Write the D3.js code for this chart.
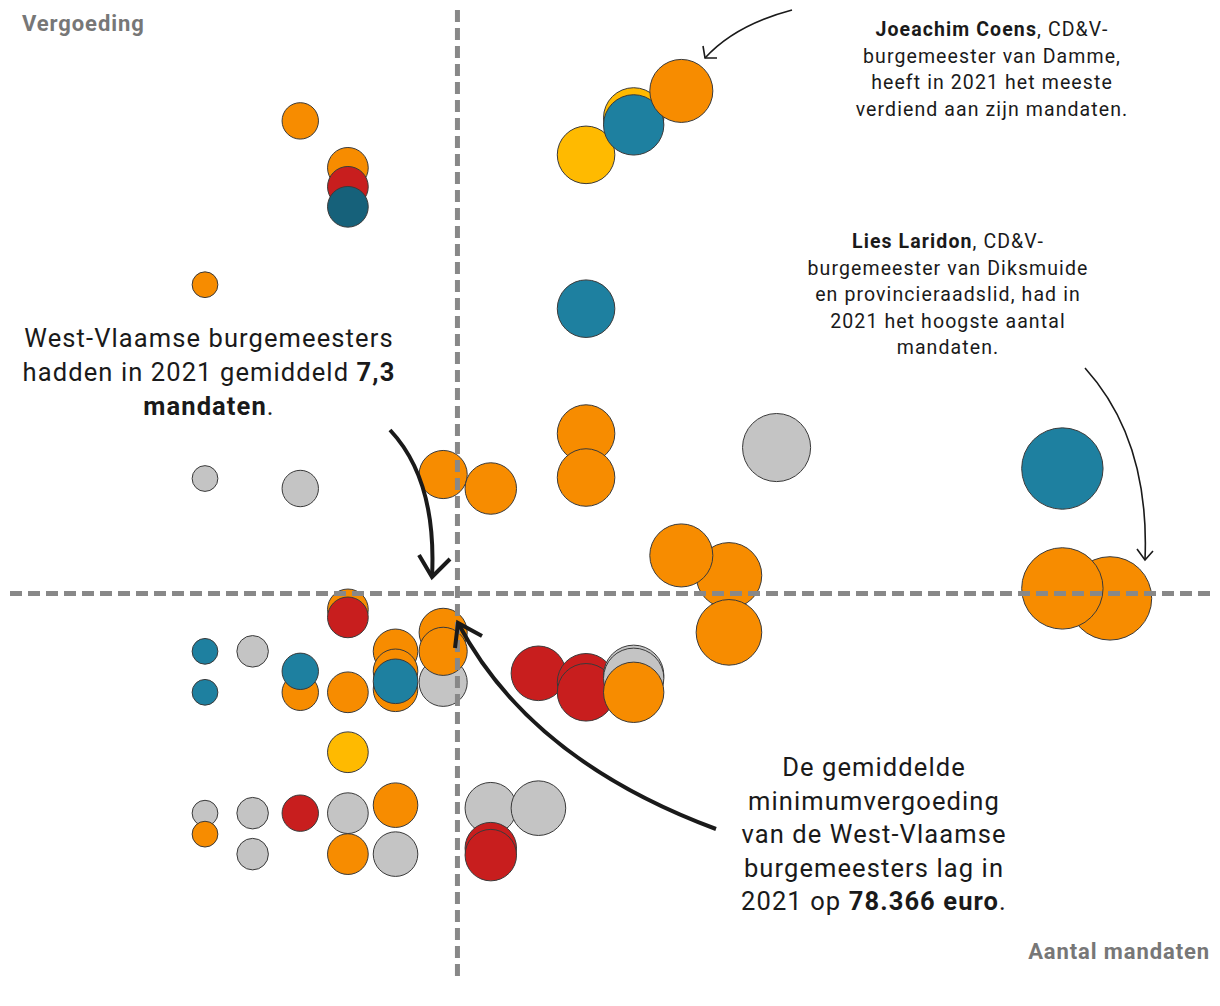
<!DOCTYPE html>
<html>
<head>
<meta charset="utf-8">
<script src="https://cdn.jsdelivr.net/npm/d3@7"></script>
<style>
  html, body { margin: 0; padding: 0; background: #fff; }
  svg { display: block; font-family: Roboto, "Noto Sans", sans-serif; }
</style>
</head>
<body>
<svg id="chart" width="1220" height="1006"></svg>
<script>
// ---- data ----
const partijen = ["CD&V", "N-VA", "Open Vld", "Vooruit", "Lokale lijst", "Andere"];
const partijKleuren = ["#F78C00", "#FFBA00", "#1E80A0", "#C81E1E", "#C4C4C4", "#16617A"];

const mandaten = [
  2, 2, 2, 2, 2, 2,
  3, 3, 3,
  4, 4, 4, 4, 4,
  5, 5, 5, 5, 5, 5, 5, 5, 5,
  6, 6, 6, 6, 6, 6,
  7, 7, 7, 7,
  8, 8, 8, 8,
  9, 9,
  10, 10, 10, 10, 10, 10,
  11, 11, 11, 11, 11,
  13, 13, 12, 12,
  14,
  20, 21, 20
];
const vergoeding = [
  109266, 89866, 72566, 68466, 56366, 54266,
  72566, 56366, 52266,
  125666, 88866, 68466, 70566, 56366,
  120966, 119066, 117066, 76766, 75966, 68466, 62466, 56366, 52266,
  72566, 70566, 68766, 69566, 57166, 52266,
  90266, 69466, 74466, 72566,
  88866, 56866, 52866, 52166,
  70366, 56866,
  122266, 106866, 94366, 89966, 69466, 68466,
  125966, 125266, 70166, 69866, 68466,
  80166, 74466, 128666, 82166,
  92966,
  90866, 77866, 78866
];
const partij = [
  "CD&V", "Lokale lijst", "Open Vld", "Open Vld", "Lokale lijst", "CD&V",
  "Lokale lijst", "Lokale lijst", "Lokale lijst",
  "CD&V", "Lokale lijst", "CD&V", "Open Vld", "Vooruit",
  "CD&V", "Vooruit", "Andere", "CD&V", "Vooruit", "CD&V", "N-VA", "Lokale lijst", "CD&V",
  "CD&V", "CD&V", "CD&V", "Open Vld", "CD&V", "Lokale lijst",
  "CD&V", "Lokale lijst", "CD&V", "CD&V",
  "CD&V", "Lokale lijst", "Vooruit", "Vooruit",
  "Vooruit", "Lokale lijst",
  "N-VA", "Open Vld", "CD&V", "CD&V", "Vooruit", "Vooruit",
  "N-VA", "Open Vld", "Lokale lijst", "Lokale lijst", "CD&V",
  "CD&V", "CD&V", "CD&V", "CD&V",
  "Lokale lijst",
  "Open Vld", "CD&V", "CD&V"
];

const gemiddeldMandaten = 7.3;
const gemiddeldeVergoeding = 78366;

const asLabels = ["Vergoeding", "Aantal mandaten"];

const annotaties = [
  { x: 209, y: 347, size: 25.5, lh: 34, lines: [
    [["West-Vlaamse burgemeesters", false]],
    [["hadden in 2021 gemiddeld ", false], ["7,3", true]],
    [["mandaten", true], [".", false]]
  ]},
  { x: 874, y: 776, size: 25.5, lh: 33.5, lines: [
    [["De gemiddelde", false]],
    [["minimumvergoeding", false]],
    [["van de West-Vlaamse", false]],
    [["burgemeesters lag in", false]],
    [["2021 op ", false], ["78.366 euro", true], [".", false]]
  ]},
  { x: 992, y: 36, size: 19.5, lh: 26.5, lines: [
    [["Joeachim Coens", true], [", CD&V-", false]],
    [["burgemeester van Damme,", false]],
    [["heeft in 2021 het meeste", false]],
    [["verdiend aan zijn mandaten.", false]]
  ]},
  { x: 948, y: 248, size: 19.5, lh: 26.5, lines: [
    [["Lies Laridon", true], [", CD&V-", false]],
    [["burgemeester van Diksmuide", false]],
    [["en provincieraadslid, had in", false]],
    [["2021 het hoogste aantal", false]],
    [["mandaten.", false]]
  ]}
];

// ---- drawing ----
const svg = d3.select("#chart");

const x = d3.scaleLinear().domain([2, 21]).range([205, 1110]);
const y = d3.scaleLinear().domain([gemiddeldeVergoeding - 38300, gemiddeldeVergoeding + 58300]).range([976, 11]);
const r = d3.scaleSqrt().domain([0, 21]).range([0, 9.1 * Math.sqrt(21)]);
const kleur = d3.scaleOrdinal().domain(partijen).range(partijKleuren);

const data = mandaten.map((m, i) => ({ m, v: vergoeding[i], p: partij[i] }));

svg.append("g").selectAll("circle")
  .data(data)
  .join("circle")
  .attr("cx", d => x(d.m))
  .attr("cy", d => y(d.v))
  .attr("r", d => r(d.m))
  .attr("fill", d => kleur(d.p))
  .attr("stroke", "#3a3a3a")
  .attr("stroke-width", 1);

// mean lines
const gl = svg.append("g").attr("stroke", "#888").attr("stroke-width", 5).attr("stroke-dasharray", "12,6");
gl.append("line")
  .attr("x1", 10).attr("x2", 1212)
  .attr("y1", y(gemiddeldeVergoeding)).attr("y2", y(gemiddeldeVergoeding));
gl.append("line")
  .attr("x1", x(gemiddeldMandaten)).attr("x2", x(gemiddeldMandaten))
  .attr("y1", 10).attr("y2", 976);

// axis labels
svg.append("text").attr("x", 22).attr("y", 31)
  .attr("font-size", 22).attr("font-weight", 700).attr("fill", "#777")
  .attr("letter-spacing", 0.9)
  .text(asLabels[0]);
svg.append("text").attr("x", 1210).attr("y", 959).attr("text-anchor", "end")
  .attr("font-size", 22).attr("font-weight", 700).attr("fill", "#777")
  .attr("letter-spacing", 0.9)
  .text(asLabels[1]);

// annotation texts
annotaties.forEach(a => {
  const t = svg.append("text")
    .attr("text-anchor", "middle")
    .attr("font-size", a.size)
    .attr("letter-spacing", 1.1)
    .attr("fill", "#1a1a1a");
  a.lines.forEach((line, li) => {
    line.forEach((seg, si) => {
      const ts = t.append("tspan").text(seg[0]).attr("font-weight", seg[1] ? 700 : 400);
      if (si === 0) ts.attr("x", a.x).attr("y", a.y + li * a.lh);
    });
  });
});

// arrows
const arrows = [
  { d: "M390,430 Q437,480 432,577", head: "M419,555 L432,577 L450,559", w: 4 },
  { d: "M716,829 Q530,760 458,623", head: "M455,648 L458,623 L482,636", w: 4 },
  { d: "M792,10 Q735,25 705,58", head: "M703,46 L705,58 L717,58", w: 1.6 },
  { d: "M1085,368 Q1150,440 1145,560", head: "M1137,549 L1145,560 L1153,551", w: 1.6 }
];
const ga = svg.append("g").attr("fill", "none").attr("stroke", "#1a1a1a");
arrows.forEach(a => {
  ga.append("path").attr("d", a.d).attr("stroke-width", a.w);
  ga.append("path").attr("d", a.head).attr("stroke-width", a.w);
});
</script>
</body>
</html>
